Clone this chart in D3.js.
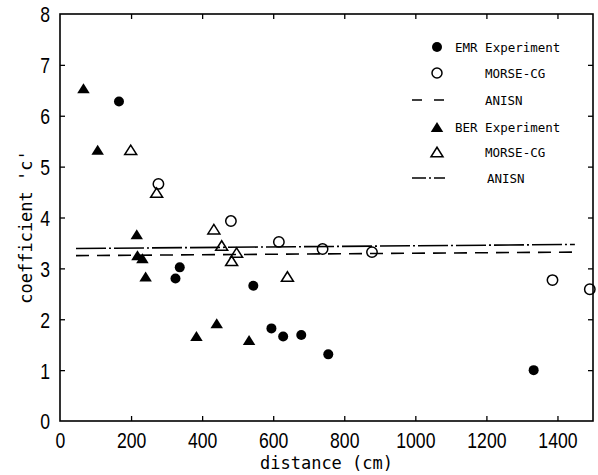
<!DOCTYPE html>
<html><head><meta charset="utf-8">
<script src="https://cdn.jsdelivr.net/npm/d3@7"></script>
<style>body{margin:0;background:#fff}svg{display:block}</style>
</head><body>
<script>
// ---- data ----
const emrExpX = [166, 337, 325, 544, 595, 628, 679, 755, 1333];
const emrExpY = [6.28, 3.02, 2.80, 2.66, 1.82, 1.66, 1.69, 1.31, 1.00];
const emrMorseX = [277, 481, 616, 739, 878, 1386, 1491];
const emrMorseY = [4.66, 3.93, 3.52, 3.38, 3.32, 2.77, 2.59];
const berExpX = [66, 106, 216, 218, 232, 241, 384, 441, 532];
const berExpY = [6.54, 5.33, 3.67, 3.26, 3.20, 2.84, 1.67, 1.92, 1.59];
const berMorseX = [199, 272, 433, 455, 497, 483, 640];
const berMorseY = [5.33, 4.49, 3.77, 3.45, 3.31, 3.15, 2.84];
const emrAnisnX = [45, 1449];
const emrAnisnY = [3.25, 3.32];
const berAnisnX = [45, 1449];
const berAnisnY = [3.39, 3.47];
const xTicks = [0, 200, 400, 600, 800, 1000, 1200, 1400];
const yTicks = [0, 1, 2, 3, 4, 5, 6, 7, 8];
const legendLabels = ["EMR Experiment", "MORSE-CG", "ANISN", "BER Experiment", "MORSE-CG", "ANISN"];

const W = 598, H = 475;
const svg = d3.select("body").append("svg").attr("width", W).attr("height", H);
const x = d3.scaleLinear().domain([0, 1500]).range([60, 593]);
const y = d3.scaleLinear().domain([0, 8]).range([421, 14]);
const fmt = d3.format("d");

// frame
svg.append("rect").attr("x", x(0)).attr("y", y(8)).attr("width", x(1500) - x(0)).attr("height", y(0) - y(8))
  .attr("fill", "none").attr("stroke", "#000").attr("stroke-width", 1.6);

// axes (ticks inward)
const tickFont = "'Liberation Sans', Arial, sans-serif";
const gB = svg.append("g").attr("transform", `translate(0,${y(0)})`)
  .call(d3.axisBottom(x).tickValues(xTicks).tickFormat(fmt).tickSizeInner(-5).tickSizeOuter(0).tickPadding(11));
const gT = svg.append("g").attr("transform", `translate(0,${y(8)})`)
  .call(d3.axisTop(x).tickValues(xTicks).tickSizeInner(-5).tickSizeOuter(0).tickFormat(""));
const gL = svg.append("g").attr("transform", `translate(${x(0)},0)`)
  .call(d3.axisLeft(y).tickValues(yTicks).tickFormat(fmt).tickSizeInner(-5).tickSizeOuter(0).tickPadding(10));
const gR = svg.append("g").attr("transform", `translate(${x(1500)},0)`)
  .call(d3.axisRight(y).tickValues(yTicks).tickSizeInner(-5).tickSizeOuter(0).tickFormat(""));
[gB, gT, gL, gR].forEach(g => {
  g.select(".domain").remove();
  g.selectAll(".tick line").attr("stroke", "#000").attr("stroke-width", 1.3);
  g.selectAll(".tick text").attr("font-family", tickFont).attr("font-size", 22).attr("fill", "#000")
    .attr("textLength", d => fmt(d).length * 9.8).attr("lengthAdjust", "spacingAndGlyphs");
});
gB.selectAll(".tick text").attr("dy", "0.72em");
gL.selectAll(".tick text").attr("dy", "0.36em");
gB.selectAll(".tick line").filter(d => d === 0).remove();
gT.selectAll(".tick line").filter(d => d === 0).remove();
gL.selectAll(".tick line").filter(d => d === 0 || d === 8).remove();
gR.selectAll(".tick line").filter(d => d === 0 || d === 8).remove();

// axis titles
const mono = "'DejaVu Sans Mono', 'Liberation Mono', monospace";
svg.append("text").attr("x", (x(0) + x(1500)) / 2).attr("y", 469).attr("text-anchor", "middle")
  .attr("font-family", mono).attr("font-size", 17).text("distance (cm)");
svg.append("text").attr("transform", `translate(32,227) rotate(-90)`).attr("text-anchor", "middle")
  .attr("font-family", mono).attr("font-size", 17).text("coefficient 'c'");

// ANISN lines
const line = d3.line().x(d => x(d[0])).y(d => y(d[1]));
svg.append("path").datum(d3.zip(emrAnisnX, emrAnisnY)).attr("d", line)
  .attr("fill", "none").attr("stroke", "#000").attr("stroke-width", 1.6).attr("stroke-dasharray", "13,8");
svg.append("path").datum(d3.zip(berAnisnX, berAnisnY)).attr("d", line)
  .attr("fill", "none").attr("stroke", "#000").attr("stroke-width", 1.6).attr("stroke-dasharray", "30,3,2,3");

// markers
function triPath(cx, cy, w, h) {
  return `M${cx},${cy - h / 2}L${cx + w / 2},${cy + h / 2}L${cx - w / 2},${cy + h / 2}Z`;
}
svg.append("g").selectAll("circle").data(d3.zip(emrExpX, emrExpY)).join("circle")
  .attr("cx", d => x(d[0])).attr("cy", d => y(d[1])).attr("r", 5).attr("fill", "#000");
svg.append("g").selectAll("circle").data(d3.zip(emrMorseX, emrMorseY)).join("circle")
  .attr("cx", d => x(d[0])).attr("cy", d => y(d[1])).attr("r", 5.2).attr("fill", "none")
  .attr("stroke", "#000").attr("stroke-width", 1.5);
svg.append("g").selectAll("path").data(d3.zip(berExpX, berExpY)).join("path")
  .attr("d", d => triPath(x(d[0]), y(d[1]), 12.5, 10)).attr("fill", "#000");
svg.append("g").selectAll("path").data(d3.zip(berMorseX, berMorseY)).join("path")
  .attr("d", d => triPath(x(d[0]), y(d[1]), 12, 9.5)).attr("fill", "none").attr("stroke", "#000").attr("stroke-width", 1.5);

// legend
const lg = svg.append("g");
const rowsY = [47, 73, 100, 127, 152, 178];
const textX = [455, 485, 485, 455, 485, 487];
legendLabels.forEach((t, i) => {
  lg.append("text").attr("x", textX[i]).attr("y", rowsY[i] + 4.5).attr("font-family", mono)
    .attr("font-size", 12.5).text(t);
});
lg.append("circle").attr("cx", 437).attr("cy", rowsY[0]).attr("r", 5).attr("fill", "#000");
lg.append("circle").attr("cx", 437).attr("cy", rowsY[1]).attr("r", 5).attr("fill", "none").attr("stroke", "#000").attr("stroke-width", 1.5);
lg.append("line").attr("x1", 412).attr("x2", 444).attr("y1", rowsY[2]).attr("y2", rowsY[2])
  .attr("stroke", "#000").attr("stroke-width", 1.6).attr("stroke-dasharray", "10,12");
lg.append("path").attr("d", triPath(437, rowsY[3], 12.5, 10)).attr("fill", "#000");
lg.append("path").attr("d", triPath(437, rowsY[4], 12, 9.5)).attr("fill", "none").attr("stroke", "#000").attr("stroke-width", 1.5);
lg.append("line").attr("x1", 412).attr("x2", 445).attr("y1", rowsY[5]).attr("y2", rowsY[5])
  .attr("stroke", "#000").attr("stroke-width", 1.6).attr("stroke-dasharray", "14,3,2,3");
</script>
</body></html>
